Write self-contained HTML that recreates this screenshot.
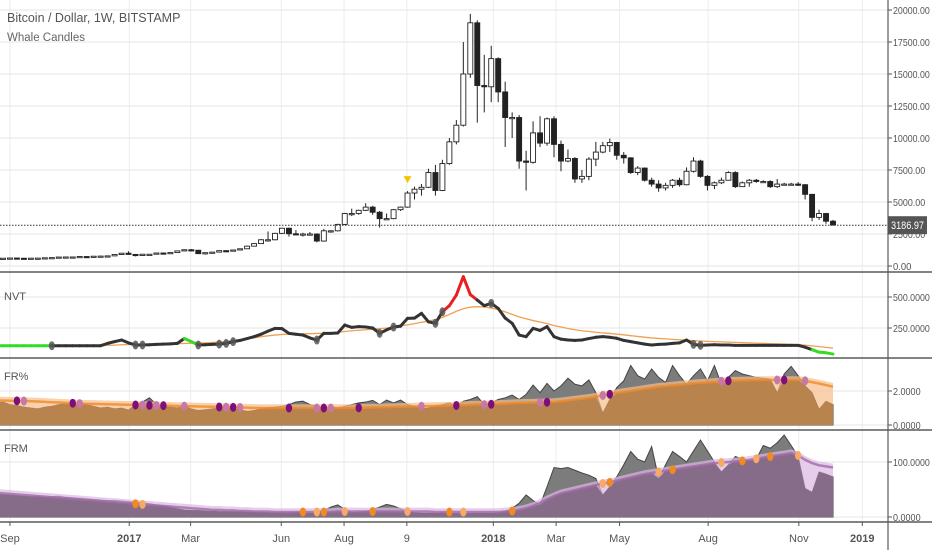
<!DOCTYPE html>
<html><head><meta charset="utf-8"><style>
html,body{margin:0;padding:0;background:#fff;width:932px;height:550px;overflow:hidden}
svg{display:block;font-family:"Liberation Sans",sans-serif}
</style></head><body>
<svg id="c" width="932" height="550" viewBox="0 0 932 550"></svg>
<script>
// ---- data (weekly, Aug 22 2016 .. Dec 10 2018) ----
const closes=[575,608,623,607,602,612,617,640,655,700,705,705,740,735,765,775,790,895,1000,
905,820,920,920,1015,995,1050,1180,1270,1230,965,1040,1085,1200,1190,1250,1345,1550,1750,2050,2050,2550,2950,2520,2500,2500,2500,1950,2750,2750,3250,4100,4100,4350,4600,4200,3700,3700,4400,4600,5700,6000,6150,7300,5900,8000,9700,11000,15000,19000,14100,14000,
16200,13600,11600,11600,8200,8100,10400,9600,11500,9500,8200,8400,6800,7000,8350,8900,9400,9650,8650,8450,7300,7650,6700,6400,6100,6300,6700,6350,7400,8200,7000,6300,6500,6700,7300,6200,6500,6700,6600,6600,6200,6400,6400,6400,6350,5600,3800,4100,3500,3200];
const highs=[590,612,630,628,612,616,620,642,660,705,740,725,750,755,770,780,800,900,1000,1150,910,930,930,1030,1040,1060,1190,1290,1330,1260,1060,1100,1210,1230,1260,1350,1600,1800,2100,2700,2600,2980,3000,2800,2600,2650,2550,2900,2800,3300,4150,4480,4400,4900,4700,4300,4100,4450,4650,5850,6200,6400,7600,7900,8300,10000,11400,17500,19700,19200,16500,17200,16300,14400,12000,11800,9000,11300,11700,11600,11700,9800,9100,8500,7500,8500,9700,9700,9950,9700,8900,8500,7800,7700,6900,6700,6500,6800,6900,7700,8500,8300,7100,6600,6900,7400,7400,6600,6800,6800,6700,6700,6800,6500,6500,6550,6400,5600,4400,4150,3600];
const lows=[565,570,600,600,595,598,608,615,635,650,690,700,700,725,730,755,770,785,890,880,750,815,880,910,960,990,1040,1170,1150,940,890,1030,1070,1170,1180,1240,1340,1540,1740,1900,2000,2500,2300,2450,2300,2450,1850,1900,2600,2700,3200,3900,4000,4300,4000,3000,3650,3650,4300,4550,5200,5500,6100,5500,5850,7900,9500,10900,14700,11200,12000,12800,12800,9300,10000,7600,5900,8000,9300,9400,8500,7400,8100,6500,6500,6700,7800,8800,8900,8300,8000,7200,7100,6600,6200,5800,5900,6100,6200,6300,7300,6900,5900,6000,6400,6700,6100,6200,6200,6500,6500,6100,6100,6300,6350,6250,5200,3500,3600,3300,3200];
const priceTicks=[0,2500,5000,7500,10000,12500,15000,17500,20000];
const signalWeeks=[59];
const nvt=[107,107,107,107,107,107,107,107,107,107,107,107,107,107,107,107,126,140,153,130,113,113,115,118,120,122,126,165,140,113,115,118,120,126,140,150,165,180,200,225,247,245,207,200,193,170,153,207,207,210,274,255,261,258,250,207,235,258,265,328,330,368,300,288,381,430,516,664,520,475,430,449,408,330,288,193,180,247,230,261,180,160,153,150,153,165,175,180,175,167,150,140,130,120,113,118,120,126,130,153,118,110,113,115,113,113,110,110,110,110,110,110,110,110,110,110,95,75,55,50,40];
const nvtColor="gggggggggbbbbbbbbbbbbbbbbbbbggbbbbbbbbbbbbbbbbbbbbbbbbbbbbbbbbbbbrrrrrbbbbbbbbbbbbbbbbbbbbbbbbbbbbbbbbbbbbbbbbbbbbbbbbgggggg";
const nvtMa=[107,107,107,107,107,107,107,107,107,107,107,107,107,107,107,107,110,112,115,117,118,118,119,120,120,121,123,125,127,128,130,133,137,142,148,155,163,172,180,187,193,198,200,202,203,204,206,208,212,216,222,228,232,236,240,245,250,258,266,275,285,296,305,318,335,360,385,405,418,422,420,410,398,380,360,340,325,310,298,285,270,258,246,236,228,222,216,210,206,200,195,188,182,176,170,166,162,158,155,152,148,145,142,140,138,136,134,132,130,128,126,124,122,120,118,116,112,106,100,94,88];
const nvtDots=[8,20,21,29,32,33,34,46,55,57,63,64,71,100,101];
const nvtTicks=[250,500];
const fr=[1.3,1.35,1.2,1.15,1.05,1.0,0.95,1.05,1.1,1.2,1.25,1.15,1.3,1.2,1.1,1.0,1.05,0.95,1.0,0.88,1.2,1.35,1.6,1.2,1.1,1.05,1.0,1.1,0.95,0.85,0.9,0.95,1.0,1.05,0.95,0.9,0.8,0.85,0.95,1.0,1.05,1.1,1.2,1.35,1.4,1.2,1.1,0.9,1.05,1.0,1.1,1.2,1.3,1.35,1.45,1.2,1.47,1.3,1.47,1.2,1.1,0.95,1.0,1.1,1.2,1.3,1.1,1.4,1.5,1.67,1.2,1.3,1.5,1.6,1.76,1.5,1.8,2.35,1.9,2.45,2.0,2.3,2.75,2.4,2.3,2.65,1.9,0.7,1.5,2.2,2.6,3.5,2.9,2.7,3.3,2.8,2.5,3.5,2.9,2.4,2.9,3.3,2.6,3.5,2.4,2.8,3.2,3.0,2.9,2.8,2.75,2.7,1.9,3.0,3.45,2.9,2.3,1.9,0.92,1.4,1.2];
const frMa=[1.45,1.44,1.43,1.42,1.41,1.4,1.38,1.36,1.34,1.32,1.3,1.28,1.26,1.25,1.24,1.23,1.22,1.21,1.2,1.19,1.18,1.17,1.16,1.15,1.14,1.13,1.12,1.11,1.1,1.09,1.08,1.07,1.06,1.05,1.04,1.03,1.02,1.01,1.0,1.0,1,1,1,1,1,1,1,1,1,1,1.0,1.0,1.01,1.02,1.03,1.04,1.05,1.06,1.07,1.08,1.09,1.1,1.11,1.12,1.13,1.14,1.15,1.17,1.19,1.21,1.2,1.22,1.24,1.26,1.28,1.3,1.31,1.32,1.33,1.34,1.35,1.4,1.45,1.5,1.55,1.6,1.67,1.74,1.81,1.88,1.95,2.01,2.07,2.13,2.19,2.25,2.29,2.33,2.37,2.41,2.45,2.48,2.51,2.54,2.57,2.6,2.61,2.62,2.63,2.64,2.65,2.65,2.65,2.65,2.65,2.65,2.6,2.52,2.44,2.35,2.25];
const frDots=[3,4,11,12,20,21,22,23,24,27,32,33,34,35,42,46,47,48,52,61,66,70,71,78,79,87,88,104,105,112,113,116];
const frTicks=[0,2];
const frm=[40,41,40,39,38,37,38,36,37,38,36,35,34,33,32,31,30,30,29,28,27,26,24,22,20,18,15,13,12,12,11,11,10,10,10,10,9,9,9,8,8,8,8,9,8,7,8,12,18,22,14,8,9,10,14,18,23,20,15,10,8,7,7,7,8,7,7,6,7,7,7,7,8,10,16,25,40,30,22,55,90,88,90,85,80,76,70,40,55,73,95,119,105,100,128,70,95,119,110,100,120,140,120,100,82,95,110,105,102,105,130,125,135,149,130,110,52,45,82,78,73];
const frmMa=[44,43,42,41,40,39,38,37,36,35,34,33,32,31,30,29,28,27,26,25,24,23,22,21,20,19,18,17,16,15,14,13,13,12,12,11,11,10,10,10,9,9,9,9,9,9,9,9,9,10,10,10,10,10,10,10,10,10,10,10,10,10,10,9,9,9,9,9,9,9,9,9,9,10,11,13,16,20,26,32,38,43,46,49,52,55,58,61,63,66,69,72,75,78,80,82,84,86,88,90,92,94,96,98,99,100,101,102,104,106,108,110,112,114,116,112,104,98,94,92,90];
const frmDots=[20,21,44,46,47,50,54,59,65,67,74,87,88,95,97,104,107,109,111,115];
const frmTicks=[0,100];
const timeLabels=["Sep","2017","Mar","Jun","Aug","9","2018","Mar","May","Aug","Nov","2019"];
const timeWeeks=[2.0,19.1,27.9,40.9,49.9,58.9,71.3,80.3,89.4,102.1,115.1,124.2];
const lastPrice=3186.97;

// ---- scales ----
const N=closes.length, STEP=6.975, XLAST=833;
const xw=i=>XLAST-(N-1-i)*STEP;
const yP=p=>266-p*0.0128;
const yN=v=>359-v*0.124;
const yF=v=>425-v*17;
const yM=v=>517-v*0.55;
const AX=888;
const svg=document.getElementById('c'), NS='http://www.w3.org/2000/svg';
function mk(tag,attrs,parent){const e=document.createElementNS(NS,tag);for(const k in attrs)e.setAttribute(k,attrs[k]);(parent||svg).appendChild(e);return e;}
function grp(name){const g=mk('g',{});return g;}

const vg=grp('vertical-grid');
timeWeeks.forEach(w=>{mk('line',{x1:xw(w),x2:xw(w),y1:0,y2:522,stroke:'#ececec','stroke-width':1},vg);});
const ax=grp('right-axis');
function hticks(ticks,fy,fmt,name){ticks.forEach(t=>{const y=fy(t);
 mk('line',{x1:0,x2:AX,y1:y,y2:y,stroke:'#e6e6e6','stroke-width':1},vg);
 mk('line',{x1:AX,x2:AX+4,y1:y,y2:y,stroke:'#555'},ax);
 const s=fmt(t);
 const tx=mk('text',{x:AX+5,y:y+4,'font-size':10.5,fill:'#555',textLength:s.length*4.6,lengthAdjust:'spacingAndGlyphs'},ax);tx.textContent=s;
 
 });}
hticks(priceTicks,yP,t=>t.toFixed(2),'price-tick-label');
hticks(nvtTicks,yN,t=>t.toFixed(4),'nvt-tick-label');
hticks(frTicks,yF,t=>t.toFixed(4),'fr-tick-label');
hticks(frmTicks,yM,t=>t.toFixed(4),'frm-tick-label');

[[272,'price-nvt-separator'],[358,'nvt-fr-separator'],[430,'fr-frm-separator'],[522,'time-axis-line']].forEach(([y,n])=>{const l=mk('line',{x1:0,x2:932,y1:y,y2:y,stroke:'#5a5a5a','stroke-width':1.6});});
mk('line',{x1:AX,x2:AX,y1:0,y2:550,stroke:'#5a5a5a','stroke-width':1.2});

const cg=grp('candles');
for(let i=0;i<N;i++){const o=i?closes[i-1]:closes[0]-5, c=closes[i], x=xw(i);
 const up=c>=o; const t=yP(Math.max(o,c)), b=yP(Math.min(o,c));
 const g=mk('g',{},cg);
 
 
 mk('line',{x1:x,x2:x,y1:yP(highs[i]),y2:yP(lows[i]),stroke:'#222','stroke-width':1},g);
 mk('rect',{x:x-2.5,y:t,width:5,height:Math.max(b-t,1.2),fill:up?'#fff':'#222',stroke:'#222','stroke-width':0.9},g);}
signalWeeks.forEach(i=>{const x=xw(i),y=yP(highs[i])-8;const p=mk('path',{d:`M${x-4},${y-7}L${x+4},${y-7}L${x},${y}Z`,fill:'#f5c400'});});
const lp=yP(lastPrice);
mk('line',{x1:0,x2:AX,y1:lp,y2:lp,stroke:'#333','stroke-width':1,'stroke-dasharray':'1.5,1.5'});
const lb=mk('rect',{x:AX,y:lp-9,width:39,height:18,fill:'#555'});
const lt=mk('text',{x:AX+3,y:lp+4,'font-size':11,fill:'#fff',textLength:33,lengthAdjust:'spacingAndGlyphs'});lt.textContent=lastPrice.toFixed(2);

const ng=grp('nvt-series');
const ma=mk('polyline',{points:nvtMa.map((v,i)=>xw(i)+','+yN(v)).join(' '),fill:'none',stroke:'#f0a050','stroke-width':1.3},ng);

const colMap={g:'#33dd22',b:'#333',r:'#e82020'};
for(let i=0;i<N-1;i++){const l=mk('line',{x1:xw(i),y1:yN(nvt[i]),x2:xw(i+1),y2:yN(nvt[i+1]),stroke:colMap[nvtColor[i+1]]||'#333','stroke-width':3,'stroke-linecap':'round'},ng);
 }
nvtDots.forEach(i=>{const e=mk('ellipse',{cx:xw(i),cy:yN(nvt[i]),rx:3,ry:4.5,fill:'#555',opacity:0.85},ng);});

function area(vals,fy,base){let d=`M${xw(0)},${base}`;vals.forEach((v,i)=>d+=`L${xw(i)},${fy(v)}`);return d+`L${xw(N-1)},${base}Z`;}
function band(lo,hi,fy){let d='M';hi.forEach((v,i)=>d+=(i?'L':'')+xw(i)+','+fy(v));for(let i=N-1;i>=0;i--)d+='L'+xw(i)+','+fy(lo[i]);return d+'Z';}
function pane(vals,mav,fy,base,fillC,bandC,lineC,dots,dotC,name,bandW){
 const g=grp(name);
 const gr=mk('path',{d:area(vals,fy,base),fill:'#7c7c7c',stroke:'#444','stroke-width':1},g);
 const mn=vals.map((v,i)=>Math.min(v,mav[i]));
 const hi=mav.map(v=>v+bandW);
 const bd=mk('path',{d:band(mn,hi,fy),fill:bandC,opacity:0.7},g);
 const f=mk('path',{d:area(mn,fy,base),fill:fillC},g);
 const l=mk('polyline',{points:mav.map((v,i)=>xw(i)+','+fy(v)).join(' '),fill:'none',stroke:lineC,'stroke-width':2.5,opacity:0.8},g);
 dots.forEach((i,k)=>{const e=mk('ellipse',{cx:xw(i),cy:fy(mav[i]),rx:3.2,ry:4.5,fill:dotC[k%2]},g);});}
pane(fr,frMa,yF,425,'#b9834e','#f7bf8a','#ef8a2a',frDots,['#7d0f7d','#c778a8'],'fr',0.22);
pane(frm,frmMa,yM,517,'#876c89','#dcb8e2','#a06aa8',frmDots,['#f28a20','#f6aa66'],'frm',7);

function txt(x,y,s,fs,c,name,w){const t=mk('text',{x,y,'font-size':fs,fill:c,'font-weight':w||'normal'});t.textContent=s;return t;}
txt(7,22,'Bitcoin / Dollar, 1W, BITSTAMP',12.5,'#555','chart-title');
txt(7,41,'Whale Candles',11.5,'#666','indicator-name');
txt(4,300,'NVT',11,'#555','nvt-pane-title');
txt(4,380,'FR%',11,'#555','fr-pane-title');
txt(4,452,'FRM',11,'#555','frm-pane-title');
timeLabels.forEach((s,k)=>{const x=xw(timeWeeks[k]);mk('line',{x1:x,x2:x,y1:522,y2:526,stroke:'#555'});
 const t=txt(x,542,s,11,'#555','time-axis-label',/^\d{4}$/.test(s)?'bold':'normal');t.setAttribute('text-anchor','middle');});
</script>
</body></html>
